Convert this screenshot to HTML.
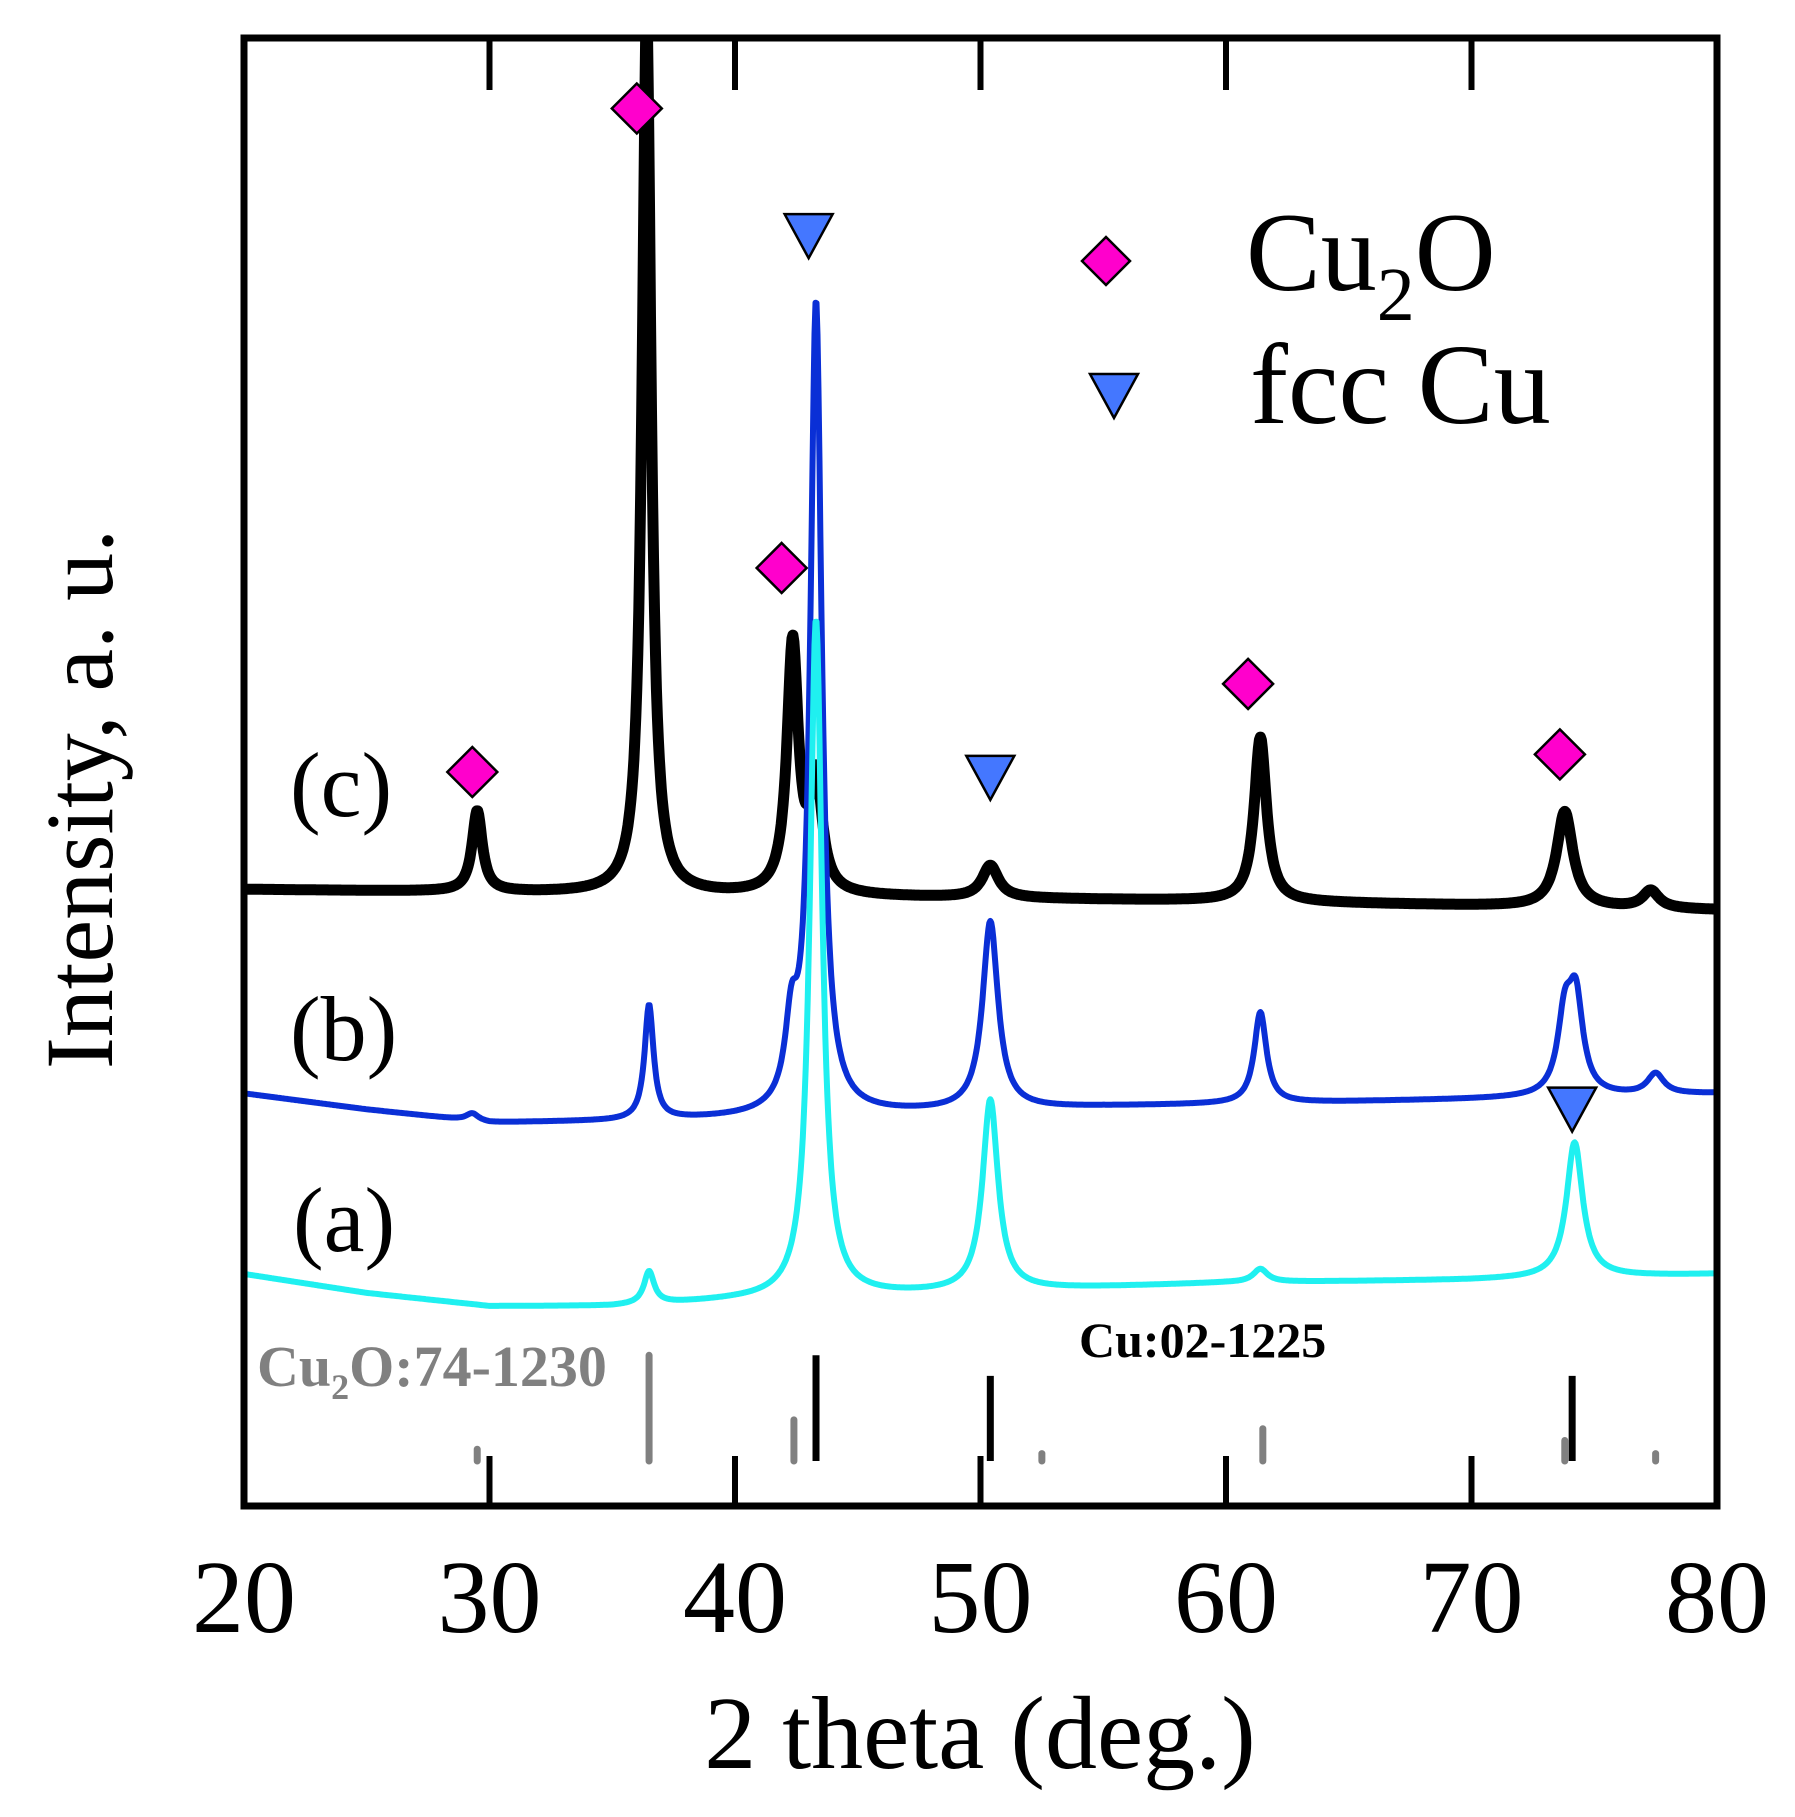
<!DOCTYPE html>
<html><head><meta charset="utf-8"><style>
html,body{margin:0;padding:0;background:#fff;}
svg{display:block;font-family:"Liberation Serif",serif;}
</style></head><body>
<svg id="chart" width="1795" height="1817" viewBox="0 0 1795 1817" xmlns="http://www.w3.org/2000/svg">
<defs><clipPath id="pc"><rect x="244" y="38" width="1473" height="1468"/></clipPath></defs>
<g id="series" clip-path="url(#pc)"></g>
<g id="refs"></g>
<g id="marks"></g>
<rect x="244" y="38" width="1473" height="1468" fill="none" stroke="#000" stroke-width="7"/>
<g id="ticks"></g>
<text x="980" y="1768" font-size="104" text-anchor="middle">2 theta (deg.)</text>
<text transform="translate(112,799) rotate(-90)" font-size="96" text-anchor="middle">Intensity, a. u.</text>
<text x="290" y="816" font-size="92">(c)</text>
<text x="290" y="1060" font-size="92">(b)</text>
<text x="293" y="1251" font-size="92">(a)</text>
<g>
<polygon points="1106,237 1130,261 1106,285 1082,261" fill="#ff00cc" stroke="#000" stroke-width="2.5"/>
<text x="1246" y="290" font-size="112">Cu<tspan font-size="76" dy="30">2</tspan><tspan dy="-30">O</tspan></text>
<polygon points="1090,374 1138,374 1114,418" fill="#4477ff" stroke="#000" stroke-width="2.5"/>
<text x="1250" y="423" font-size="114">fcc Cu</text>
</g>
<text x="257" y="1386" font-size="58" font-weight="bold" fill="#808080">Cu<tspan font-size="36" dy="13">2</tspan><tspan dy="-13">O:74-1230</tspan></text>
<text x="1079" y="1357" font-size="50" font-weight="bold" fill="#000">Cu:02-1225</text>
</svg>
<script>
const NS="http://www.w3.org/2000/svg";
const xTicks=[20,30,40,50,60,70,80];
// baselines [theta, value]
const baseC=[[20,420],[40,416],[60,412],[80,406]];
const baseB=[[20,281],[25,270],[30,261],[35,262],[40,264],[55,272],[70,277],[80,281]];
const baseA=[[20,158],[25,145],[30,136],[35,136],[40,140],[60,152],[70,154],[80,158]];
// peaks: [position, amplitude, hwhm]
const peaksC=[[29.5,55,0.25],[36.4,600,0.22],[42.35,170,0.28],[43.3,75,0.3],[50.4,22,0.4],[61.4,112,0.3],[73.8,65,0.4],[77.3,12,0.4]];
const peaksB=[[29.3,5,0.3],[36.5,78,0.22],[42.3,50,0.3],[43.3,552,0.28],[50.4,128,0.38],[61.4,62,0.3],[73.8,50,0.35],[74.25,62,0.35],[77.5,14,0.4]];
const peaksA=[[36.5,22,0.25],[43.3,462,0.3],[50.4,130,0.38],[61.4,9,0.35],[74.2,92,0.4]];
const cu2oRefPos=[29.5,36.5,42.4,52.5,61.5,73.8,77.5];
const cu2oRefInt=[8,72,28,5,22,14,5];
const cuRefPos=[43.3,50.4,74.1];
const cuRefInt=[72,58,58];
const diamonds=[[36.0,952],[41.9,639],[29.3,500],[60.9,560],[73.6,512]];
const triangles=[[43.0,865],[50.4,496],[74.1,270]];

const X=t=>244+(t-20)*1473/60;
const Y=v=>1506-v*1.468;
function interp(b,t){for(let i=0;i<b.length-1;i++){if(t<=b[i+1][0]){const f=(t-b[i][0])/(b[i+1][0]-b[i][0]);return b[i][1]+f*(b[i+1][1]-b[i][1]);}}return b[b.length-1][1];}
function prof(base,peaks,t){let v=interp(base,t);for(const p of peaks){const d=(t-p[0])/p[2];v+=p[1]/(1+d*d);}return v;}
function mk(tag,attrs,parent){const e=document.createElementNS(NS,tag);for(const k in attrs)e.setAttribute(k,attrs[k]);parent.appendChild(e);return e;}
const sg=document.getElementById('series');
[[baseC,peaksC,'#000',11,'series-c'],[baseB,peaksB,'#0a2fd6',6,'series-b'],[baseA,peaksA,'#1ff0f0',6,'series-a']].forEach(s=>{
 let d='';for(let t=20;t<=80.001;t+=0.04){d+=(d?'L':'M')+X(t).toFixed(1)+','+Y(prof(s[0],s[1],t)).toFixed(1);}
 const p=mk('path',{d:d,fill:'none',stroke:s[2],'stroke-width':s[3],'stroke-linejoin':'round'},sg);
 
 
});
const rg=document.getElementById('refs');
cu2oRefPos.forEach((t,i)=>{const l=mk('line',{x1:X(t),x2:X(t),y1:1461,y2:1461-cu2oRefInt[i]*1.468,stroke:'#808080','stroke-width':7,'stroke-linecap':'round'},rg);
 
 });
cuRefPos.forEach((t,i)=>{const l=mk('line',{x1:X(t),x2:X(t),y1:1461,y2:1461-cuRefInt[i]*1.468,stroke:'#000','stroke-width':7},rg);
 
 });
const mg=document.getElementById('marks');
diamonds.forEach(m=>{const x=X(m[0]),y=Y(m[1]);const p=mk('polygon',{points:`${x},${y-25} ${x+25},${y} ${x},${y+25} ${x-25},${y}`,fill:'#ff00cc',stroke:'#000','stroke-width':2.5},mg);
 
 });
triangles.forEach(m=>{const x=X(m[0]),y=Y(m[1]);const p=mk('polygon',{points:`${x-24},${y-22} ${x+24},${y-22} ${x},${y+22}`,fill:'#4477ff',stroke:'#000','stroke-width':2.5},mg);
 
 });
const tg=document.getElementById('ticks');
xTicks.forEach(t=>{const x=X(t);
 if(t>20&&t<80){const a=mk('line',{x1:x,x2:x,y1:1506,y2:1456,stroke:'#000','stroke-width':6},tg);
 
 
 const b=mk('line',{x1:x,x2:x,y1:38,y2:90,stroke:'#000','stroke-width':6},tg);
 
 }
 const tx=mk('text',{x:x,y:1632,'font-size':104,'text-anchor':'middle'},tg);tx.textContent=t;
 
 
});
</script>
</body></html>
